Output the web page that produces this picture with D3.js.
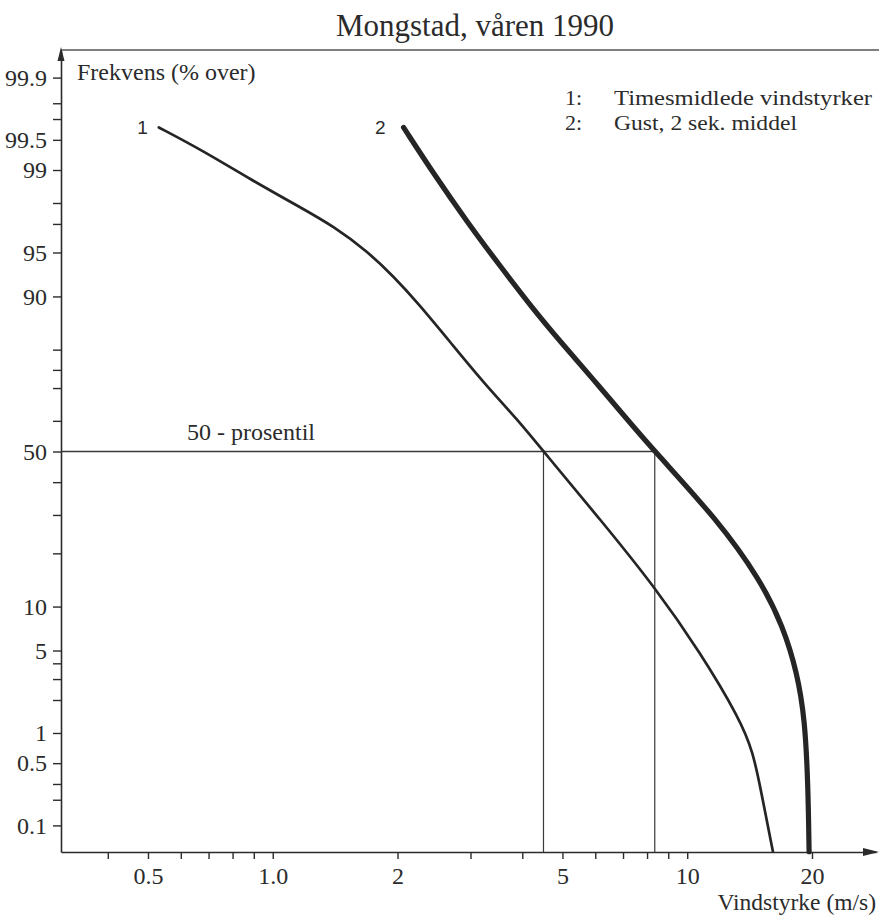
<!DOCTYPE html>
<html>
<head>
<meta charset="utf-8">
<script src="https://cdn.jsdelivr.net/npm/d3@7"></script>
<style>
  html, body { margin: 0; padding: 0; background: #fff; }
  svg { display: block; }
  text { font-family: "Liberation Serif", "Times New Roman", serif; fill: #2b2b2b; }
</style>
</head>
<body>
<svg id="chart" width="879" height="917"></svg>
<script>
// ---- data -------------------------------------------------------------
const chartTitle = "Mongstad, våren 1990";
const yAxisTitle = "Frekvens (% over)";
const xAxisTitle = "Vindstyrke (m/s)";
const seriesKeys = ["1", "2"];
const seriesNames = ["Timesmidlede vindstyrker", "Gust, 2 sek. middel"];

// Curve 1: hourly mean wind speed (m/s) vs. percent of time exceeded
const hourlySpeed = [0.531, 0.671, 0.885, 1.168, 1.403, 1.694, 1.958, 2.235, 2.686, 3.224, 3.894, 4.5, 6.17, 8.37, 10.75, 13.42, 14.42, 15.0, 16.1];
const hourlyPct   = [99.63, 99.37, 98.77, 97.81, 96.86, 95.08, 92.59, 89.09, 81.62, 71.57, 60.42, 50, 28.7, 13.05, 4.84, 1.34, 0.64, 0.28, 0.047];

// Curve 2: gust (2 s mean) wind speed vs. percent of time exceeded
const gustSpeed = [2.068, 2.443, 2.951, 3.542, 4.255, 4.94, 5.94, 7.17, 8.35, 11.81, 15.0, 17.03, 18.41, 19.23, 19.57, 19.68];
const gustPct   = [99.63, 98.92, 97.08, 93.69, 87.98, 81.82, 72.4, 60.42, 50, 28.7, 14.5, 7.41, 3.39, 1.34, 0.28, 0.047];

// 50-percentile guide lines
const medianPct = 50;
const medianSpeed = [4.5, 8.35];
const medianLabel = "50 - prosentil";

// ticks
const xTickValues = [0.4, 0.5, 0.6, 0.7, 0.8, 0.9, 1, 2, 3, 4, 5, 6, 7, 8, 9, 10, 20];
const xTickLabels = { 0.5: "0.5", 1: "1.0", 2: "2", 5: "5", 10: "10", 20: "20" };
const yTickValues = [99.9, 99.8, 99.7, 99.5, 99, 98, 97, 95, 90, 80, 75, 70, 60, 50, 40, 30, 20, 10, 5, 4, 3, 2, 1, 0.5, 0.3, 0.2, 0.1];
const yTickLabels = { 99.9: "99.9", 99.5: "99.5", 99: "99", 95: "95", 90: "90", 50: "50", 10: "10", 5: "5", 1: "1", 0.5: "0.5", 0.1: "0.1" };

// ---- helpers ------------------------------------------------------------
// inverse of the standard normal CDF (Acklam's rational approximation)
function probit(p) {
  const a = [-3.969683028665376e+01, 2.209460984245205e+02, -2.759285104469687e+02, 1.383577518672690e+02, -3.066479806614716e+01, 2.506628277459239e+00];
  const b = [-5.447609879822406e+01, 1.615858368580409e+02, -1.556989798598866e+02, 6.680131188771972e+01, -1.328068155288572e+01];
  const c = [-7.784894002430293e-03, -3.223964580411365e-01, -2.400758277161838e+00, -2.549732539343734e+00, 4.374664141464968e+00, 2.938163982698783e+00];
  const d = [7.784695709041462e-03, 3.224671290700398e-01, 2.445134137142996e+00, 3.754408661907416e+00];
  const pl = 0.02425, ph = 1 - pl;
  let q, r;
  if (p < pl) {
    q = Math.sqrt(-2 * Math.log(p));
    return (((((c[0]*q+c[1])*q+c[2])*q+c[3])*q+c[4])*q+c[5]) / ((((d[0]*q+d[1])*q+d[2])*q+d[3])*q+1);
  }
  if (p <= ph) {
    q = p - 0.5; r = q * q;
    return (((((a[0]*r+a[1])*r+a[2])*r+a[3])*r+a[4])*r+a[5])*q / (((((b[0]*r+b[1])*r+b[2])*r+b[3])*r+b[4])*r+1);
  }
  q = Math.sqrt(-2 * Math.log(1 - p));
  return -(((((c[0]*q+c[1])*q+c[2])*q+c[3])*q+c[4])*q+c[5]) / ((((d[0]*q+d[1])*q+d[2])*q+d[3])*q+1);
}

// normal-probability scale built on a linear scale of z-scores
function probabilityScale(lin) {
  const s = pct => lin(probit(pct / 100));
  s.range = () => lin.range();
  s.domain = () => lin.domain();
  s.copy = () => probabilityScale(lin.copy());
  return s;
}

// ---- layout -------------------------------------------------------------
const svg = d3.select("#chart");
const plotLeft = 61, plotRight = 876, plotTop = 51, plotBottom = 852;

const x = d3.scaleLog().domain([0.3084, 28.54]).range([plotLeft, plotRight]);
const y = probabilityScale(d3.scaleLinear().domain([-3.31, 3.31]).range([plotBottom, plotTop]));

const ink = "#2b2b2b";

// title and top rule
svg.append("text")
  .attr("x", 475).attr("y", 36)
  .attr("text-anchor", "middle")
  .attr("font-size", 31)
  .text(chartTitle);

svg.append("line")
  .attr("x1", plotLeft).attr("x2", 879)
  .attr("y1", 50).attr("y2", 50)
  .attr("stroke", "#555").attr("stroke-width", 1.3);

// y axis
const yAxis = d3.axisLeft(y)
  .tickValues(yTickValues)
  .tickFormat(v => yTickLabels[v] || "")
  .tickSizeInner(8).tickSizeOuter(0).tickPadding(6);

const gy = svg.append("g")
  .attr("transform", `translate(${plotLeft},0)`)
  .call(yAxis);
gy.select(".domain").attr("stroke", ink).attr("stroke-width", 1.6);
gy.selectAll(".tick line").attr("stroke", ink).attr("stroke-width", 1.4);
gy.selectAll(".tick text").style("font-size", "24px");

// x axis
const xAxis = d3.axisBottom(x)
  .tickValues(xTickValues)
  .tickFormat(v => xTickLabels[v] || "")
  .tickSizeInner(7).tickSizeOuter(0).tickPadding(8);

const gx = svg.append("g")
  .attr("transform", `translate(0,${plotBottom})`)
  .call(xAxis);
gx.select(".domain").attr("stroke", ink).attr("stroke-width", 1.6);
gx.selectAll(".tick line").attr("stroke", ink).attr("stroke-width", 1.4);
gx.selectAll(".tick text").style("font-size", "24px");

// arrowheads at the axis ends
svg.append("path")
  .attr("d", `M${plotLeft},${plotTop - 4} L${plotLeft - 3.5},${plotTop + 10} L${plotLeft + 3.5},${plotTop + 10} Z`)
  .attr("fill", ink);
svg.append("path")
  .attr("d", `M${plotRight + 3},${plotBottom} L${plotRight - 13},${plotBottom - 4} L${plotRight - 13},${plotBottom + 4} Z`)
  .attr("fill", ink);

// axis titles
svg.append("text")
  .attr("x", 77).attr("y", 80)
  .attr("font-size", 24)
  .text(yAxisTitle);
svg.append("text")
  .attr("x", 876).attr("y", 910)
  .attr("text-anchor", "end")
  .attr("font-size", 23.5)
  .text(xAxisTitle);

// 50-percentile guides
svg.append("line")
  .attr("x1", plotLeft).attr("x2", x(d3.max(medianSpeed)))
  .attr("y1", y(medianPct)).attr("y2", y(medianPct))
  .attr("stroke", "#3a3a3a").attr("stroke-width", 1.3);
svg.selectAll("line.median")
  .data(medianSpeed)
  .join("line")
  .attr("class", "median")
  .attr("x1", d => x(d)).attr("x2", d => x(d))
  .attr("y1", y(medianPct)).attr("y2", plotBottom)
  .attr("stroke", "#3a3a3a").attr("stroke-width", 1.2);
svg.append("text")
  .attr("x", 187).attr("y", y(medianPct) - 12)
  .attr("font-size", 24)
  .text(medianLabel);

// curves (B-spline smoothing through the read-off points)
const line = d3.line()
  .x(d => x(d[0]))
  .y(d => y(d[1]))
  .curve(d3.curveBasis);

const series = [
  { key: seriesKeys[0], pts: d3.zip(hourlySpeed, hourlyPct), width: 2.7, tagGap: 11 },
  { key: seriesKeys[1], pts: d3.zip(gustSpeed, gustPct), width: 5.2, tagGap: 18 }
];

svg.selectAll("path.curve")
  .data(series)
  .join("path")
  .attr("class", "curve")
  .attr("d", d => line(d.pts))
  .attr("fill", "none")
  .attr("stroke", "#252525")
  .attr("stroke-width", d => d.width)
  .attr("stroke-linecap", "round")
  .attr("stroke-linejoin", "round");

// curve number tags at the upper ends
svg.selectAll("text.tag")
  .data(series)
  .join("text")
  .attr("class", "tag")
  .attr("x", d => x(d.pts[0][0]) - d.tagGap)
  .attr("y", d => y(d.pts[0][1]) + 7)
  .attr("text-anchor", "end")
  .style("font-family", "'Liberation Sans', Arial, sans-serif")
  .style("font-size", "19px")
  .text(d => d.key);

// legend
const legendWidths = [258, 183];
const legend = svg.append("g").attr("transform", "translate(565,105)");
seriesNames.forEach((name, i) => {
  legend.append("text").attr("x", 0).attr("y", i * 24.5).attr("font-size", 22).text(seriesKeys[i] + ":");
  legend.append("text").attr("x", 49).attr("y", i * 24.5).attr("font-size", 22)
    .attr("textLength", legendWidths[i]).attr("lengthAdjust", "spacingAndGlyphs")
    .text(name);
});
</script>
</body>
</html>
